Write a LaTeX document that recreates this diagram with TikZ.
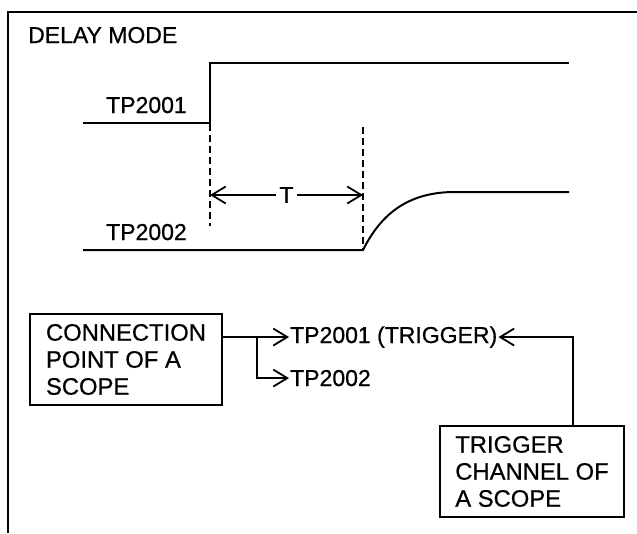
\documentclass[tikz,border=0pt]{standalone}
\usepackage{fontspec}
\setmainfont{Liberation Sans}[FakeBold=0.7]
\usetikzlibrary{arrows.meta,positioning}
\tikzset{
  sig/.style={line width=2pt},
  guide/.style={line width=1.6pt, dash pattern=on 7pt off 4pt},
  barb/.tip={Straight Barb[length=14pt,width=17pt,line width=1.8pt]},
  link/.style={line width=1.8pt, -barb},
  lbl/.style={font=\fontsize{23}{27}\selectfont, inner sep=1pt},
  scopebox/.style={draw, line width=1.8pt, align=left, inner sep=0pt,
    font=\fontsize{23.8}{27}\selectfont}
}
\begin{document}
\begin{tikzpicture}[x=1pt,y=-1pt]
  \useasboundingbox (0,0) rectangle (637,533);
  % Frame
  \draw[sig] (8,533) -- (8,12) -- (637,12);
  \node[lbl, anchor=base west] (title) at (27,43) {DELAY MODE};
  % Signals
  \node[lbl, anchor=base west] (tpa) at (105,113) {TP2001};
  \node[lbl, anchor=base west] (tpb) at (105,240) {TP2002};
  \draw[sig] (83,123) -- (210,123) -- (210,63) -- (569,63);
  \draw[sig] (83,250) -- (363,250) .. controls (382,212) and (410,192) .. (455,192) -- (569,192);
  % Delay markers
  \draw[guide] (210,124) -- (210,226);
  \draw[guide] (363,127) -- (363,250);
  \coordinate (ta) at (210,195);
  \coordinate (tb) at (363,195);
  \draw[line width=1.8pt, barb-barb] (ta) -- node[lbl, fill=white, inner xsep=3pt] (tlbl) {T} (tb);
  % Scope connections
  \node[scopebox, minimum width=192pt, minimum height=91pt] (conbox) at (126,359.5)
    {CONNECTION\\POINT OF A\\SCOPE};
  \node[scopebox, minimum width=184pt, minimum height=91pt] (trigbox) at (532,471.5)
    {TRIGGER\\CHANNEL OF\\A SCOPE};
  \node[lbl, anchor=base west] (tpone) at (289,343) {TP2001 (TRIGGER)};
  \node[lbl, anchor=base west] (tptwo) at (289,386) {TP2002};
  \coordinate (split) at (257,0);
  \draw[link] (conbox.east |- tpone.west) -- (tpone.west);
  \draw[link] (split |- tpone.west) |- (tptwo.west);
  \draw[link] ([xshift=41pt]trigbox.north) |- (tpone.east);
\end{tikzpicture}
\end{document}
